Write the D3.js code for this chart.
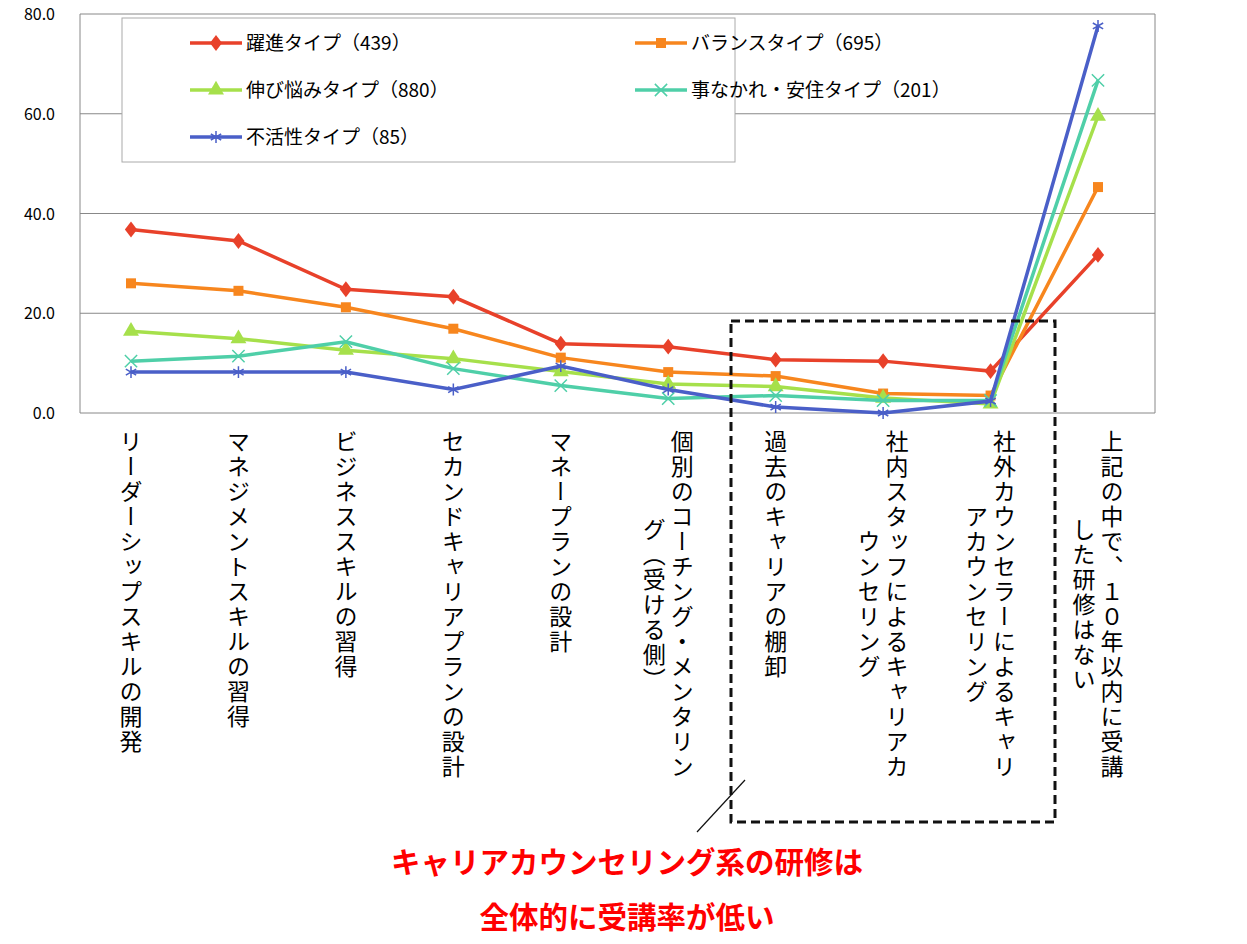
<!DOCTYPE html><html><head><meta charset="utf-8"><script src="https://cdn.jsdelivr.net/npm/d3@7"></script>
<style>body{margin:0;background:#fff}text{font-family:"Noto Sans CJK JP",sans-serif}</style></head><body>
<svg id="c" width="1247" height="944"></svg>
<script>
const categories=[["リーダーシップスキルの開発"],["マネジメントスキルの習得"],["ビジネススキルの習得"],["セカンドキャリアプランの設計"],["マネープランの設計"],["個別のコーチング・メンタリン","グ（受ける側）"],["過去のキャリアの棚卸"],["社内スタッフによるキャリアカ","ウンセリング"],["社外カウンセラーによるキャリ","アカウンセリング"],["上記の中で、１０年以内に受講","した研修はない"]];
const seriesNames=["躍進タイプ（439）","バランスタイプ（695）","伸び悩みタイプ（880）","事なかれ・安住タイプ（201）","不活性タイプ（85）"];
const s1=[36.8,34.5,24.8,23.3,13.9,13.3,10.7,10.4,8.4,31.7];
const s2=[26.0,24.5,21.2,16.9,11.1,8.2,7.4,3.9,3.5,45.3];
const s3=[16.4,14.9,12.6,10.9,8.3,5.8,5.3,3.0,1.8,59.5];
const s4=[10.4,11.4,14.3,8.9,5.5,2.9,3.5,2.5,2.5,66.7];
const s5=[8.2,8.2,8.2,4.7,9.4,4.7,1.2,0.0,2.4,77.6];
const yTicks=[0,20,40,60,80];
const colors=["#e8412a","#f7861e","#a6e04b","#4fcfa8","#4a5fc8"];
const series=[s1,s2,s3,s4,s5];
const svg=d3.select("#c");
const x=d3.scalePoint().domain(d3.range(10)).range([131,1098]);
const y=d3.scaleLinear().domain([0,80]).range([413,14]);
yTicks.forEach(t=>{svg.append("line").attr("x1",80).attr("x2",1155).attr("y1",y(t)).attr("y2",y(t)).attr("stroke","#888");
 svg.append("text").attr("x",55).attr("y",y(t)+6).attr("text-anchor","end").attr("font-size",16).text(t.toFixed(1));});
svg.append("line").attr("x1",80).attr("x2",80).attr("y1",14).attr("y2",413).attr("stroke","#888");
svg.append("line").attr("x1",1155).attr("x2",1155).attr("y1",14).attr("y2",413).attr("stroke","#888");
categories.forEach((c,i)=>{const n=c.length;const longest=d3.max(c,l=>l.length);const cy=430+longest*25/2;
 c.forEach((l,j)=>{const cx=x(i)+(n-1)*14-j*28;
 svg.append("text").attr("x",cx).attr("y",cy).attr("text-anchor","middle").attr("writing-mode","vertical-rl").attr("font-size",23).attr("letter-spacing",2).text(l);});});
const sym=[d3.symbolDiamond,d3.symbolSquare,d3.symbolTriangle,d3.symbolX,d3.symbolAsterisk];
function marker(g,k,px,py){const p=g.append("path").attr("d",d3.symbol(sym[k],k==0?90:k==1?100:k==2?110:100)()).attr("transform",`translate(${px},${py})`+(k==0?" scale(1.2,0.9)":""));
 if(k>=3)p.attr("fill","none").attr("stroke",colors[k]).attr("stroke-width",1.5);else p.attr("fill",colors[k]);}
series.forEach((s,k)=>{svg.append("path").datum(s).attr("fill","none").attr("stroke",colors[k]).attr("stroke-width",3.5)
 .attr("d",d3.line().x((d,i)=>x(i)).y(d=>y(d)));
 s.forEach((v,i)=>marker(svg,k,x(i),y(v)));});
svg.append("rect").attr("x",122).attr("y",18).attr("width",613).attr("height",144).attr("fill","#fff").attr("stroke","#aaa");
seriesNames.forEach((n,k)=>{const lx=k%2?635:190,ly=43+Math.floor(k/2)*47;
 svg.append("line").attr("x1",lx).attr("x2",lx+52).attr("y1",ly).attr("y2",ly).attr("stroke",colors[k]).attr("stroke-width",3.5);
 marker(svg,k,lx+26,ly);
 svg.append("text").attr("x",lx+56).attr("y",ly+7).attr("font-size",19).text(n);});
svg.append("rect").attr("x",731).attr("y",321).attr("width",324).attr("height",501).attr("fill","none").attr("stroke","#111").attr("stroke-width",3).attr("stroke-dasharray","9,5");
svg.append("line").attr("x1",697).attr("y1",832).attr("x2",745).attr("y2",780).attr("stroke","#111").attr("stroke-width",1.2);
[["キャリアカウンセリング系の研修は",873],["全体的に受講率が低い",928]].forEach(([t,yy])=>svg.append("text").attr("x",627).attr("y",yy).attr("text-anchor","middle").attr("font-size",29.5).attr("font-weight","bold").attr("fill","#f00").text(t));
</script></body></html>
